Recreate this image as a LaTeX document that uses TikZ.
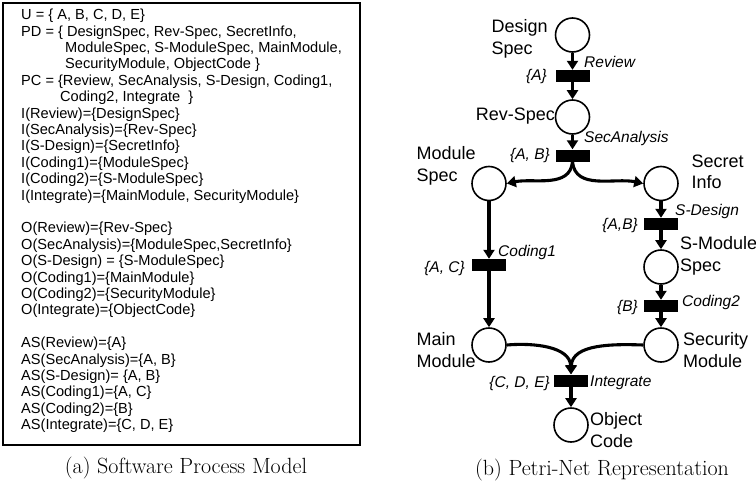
\documentclass[tikz,border=0pt]{standalone}
\usepackage{fontspec}
\newfontfamily\hv{Liberation Sans}
\usetikzlibrary{arrows.meta}
\begin{document}
\begin{tikzpicture}[x=1pt,y=-1pt,
  lt/.style={font=\hv\fontsize{14.6}{16}\selectfont, inner sep=0pt, anchor=base west},
  plabel/.style={font=\hv\fontsize{18}{21.5}\selectfont, inner sep=0pt, align=left},
  tlabel/.style={font=\hv\itshape\fontsize{15.5}{18}\selectfont, inner sep=0pt},
  place/.style={circle, draw, line width=1.6pt, minimum size=34pt, inner sep=0pt},
  trans/.style={rectangle, fill=black, minimum width=34pt, minimum height=12pt, inner sep=0pt},
  arc/.style={line width=3.1pt, -{Triangle[length=9pt,width=11pt]}},
  captxt/.style={font=\fontsize{22}{26}\selectfont, inner sep=0pt}
]
\useasboundingbox (0,0) rectangle (756,485);
% ---------- left box ----------
\draw[line width=2.5pt] (3,3) rectangle (360,445);
\node[lt] (l0) at (21,19.6) {U = \{ A, B, C, D, E\}};
\node[lt] (l1) at (21,36) {PD = \{ DesignSpec, Rev-Spec, SecretInfo,};
\node[lt] (l2) at (65,52.4) {ModuleSpec, S-ModuleSpec, MainModule,};
\node[lt] (l3) at (65,68.8) {SecurityModule, ObjectCode \}};
\node[lt] (l4) at (21,85.2) {PC = \{Review, SecAnalysis, S-Design, Coding1,};
\node[lt] (l5) at (60,101.6) {Coding2, Integrate\ \ \}};
\node[lt] (l6) at (21,118) {I(Review)=\{DesignSpec\}};
\node[lt] (l7) at (21,134.4) {I(SecAnalysis)=\{Rev-Spec\}};
\node[lt] (l8) at (21,150.8) {I(S-Design)=\{SecretInfo\}};
\node[lt] (l9) at (21,167.2) {I(Coding1)=\{ModuleSpec\}};
\node[lt] (l10) at (21,183.6) {I(Coding2)=\{S-ModuleSpec\}};
\node[lt] (l11) at (21,200) {I(Integrate)=\{MainModule, SecurityModule\}};
\node[lt] (l13) at (21,232.8) {O(Review)=\{Rev-Spec\}};
\node[lt] (l14) at (21,249.2) {O(SecAnalysis)=\{ModuleSpec,SecretInfo\}};
\node[lt] (l15) at (21,265.6) {O(S-Design) = \{S-ModuleSpec\}};
\node[lt] (l16) at (21,282) {O(Coding1)=\{MainModule\}};
\node[lt] (l17) at (21,298.4) {O(Coding2)=\{SecurityModule\}};
\node[lt] (l18) at (21,314.8) {O(Integrate)=\{ObjectCode\}};
\node[lt] (l20) at (21,347.6) {AS(Review)=\{A\}};
\node[lt] (l21) at (21,364) {AS(SecAnalysis)=\{A, B\}};
\node[lt] (l22) at (21,380.4) {AS(S-Design)= \{A, B\}};
\node[lt] (l23) at (21,396.8) {AS(Coding1)=\{A, C\}};
\node[lt] (l24) at (21,413.2) {AS(Coding2)=\{B\}};
\node[lt] (l25) at (21,429.6) {AS(Integrate)=\{C, D, E\}};
\node[captxt] (capa) at (186,468) {(a) Software Process Model};
% ---------- Petri net ----------
\node[place] (ds) at (572.5,35) {};
\node[trans] (rv) at (572.5,76) {};
\node[place] (rs) at (572.5,117) {};
\node[trans] (sa) at (572.5,155.5) {};
\node[place] (ms) at (489,183.5) {};
\node[place] (si) at (661,183.5) {};
\node[trans] (sd) at (661,224) {};
\node[trans] (c1) at (489,265) {};
\node[place] (sms) at (661,267) {};
\node[trans] (c2) at (661,306) {};
\node[place] (mm) at (489,345) {};
\node[place] (sm) at (661,345) {};
\node[trans] (ig) at (571,380.5) {};
\node[place] (oc) at (571,425) {};
\draw[arc] (ds) -- (rv);
\draw[arc] (rv) -- (rs);
\draw[arc] (rs) -- (sa);
\draw[arc] (sa.south) to[out=-95,in=12] (ms.east);
\draw[arc] (sa.south) to[out=-85,in=168] (si.west);
\draw[arc] (si) -- (sd);
\draw[arc] (sd) -- (sms);
\draw[arc] (ms) -- (c1);
\draw[arc] (c1) -- (mm);
\draw[arc] (sms) -- (c2);
\draw[arc] (c2) -- (sm);
\draw[arc] (mm.east) to[out=5,in=92] (ig.north);
\draw[arc] (sm.west) to[out=178,in=88] (ig.north);
\draw[arc] (ig) -- (oc);
% place labels
\node[plabel, anchor=west] (lds) at (491.5,39) {Design\\Spec};
\node[plabel, anchor=east] (lrs) at (555,116) {Rev-Spec};
\node[plabel, anchor=west] (lms) at (416.5,166) {Module\\Spec};
\node[plabel, anchor=west] (lsi) at (691.5,172) {Secret\\Info};
\node[plabel, anchor=west] (lsms) at (680,256) {S-Module\\Spec};
\node[plabel, anchor=west] (lmm) at (416.5,350) {Main\\Module};
\node[plabel, anchor=west] (lsm) at (683,350) {Security\\Module};
\node[plabel, anchor=west] (loc) at (590,430) {Object\\Code};
% transition labels
\node[tlabel, anchor=west] (trv) at (584,62) {Review};
\node[tlabel, anchor=east] (arv) at (547,76) {\{A\}};
\node[tlabel, anchor=west] (tsa) at (584,138) {SecAnalysis};
\node[tlabel, anchor=east] (asa) at (550,155) {\{A, B\}};
\node[tlabel, anchor=west] (tsd) at (675,211) {S-Design};
\node[tlabel, anchor=east] (asd) at (638,225) {\{A,B\}};
\node[tlabel, anchor=west] (tc1) at (498,252) {Coding1};
\node[tlabel, anchor=east] (ac1) at (465,268) {\{A, C\}};
\node[tlabel, anchor=west] (tc2) at (682,302) {Coding2};
\node[tlabel, anchor=east] (ac2) at (638,307) {\{B\}};
\node[tlabel, anchor=west] (tig) at (590,383) {Integrate};
\node[tlabel, anchor=east] (aig) at (550,383) {\{C, D, E\}};
\node[captxt] (capb) at (602,470) {(b) Petri-Net Representation};
\end{tikzpicture}
\end{document}
